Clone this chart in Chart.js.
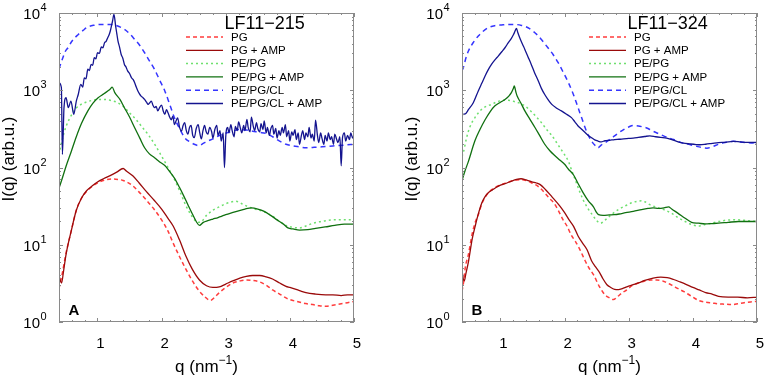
<!DOCTYPE html>
<html>
<head>
<meta charset="utf-8">
<script src="https://cdn.jsdelivr.net/npm/chart.js@4.4.1/dist/chart.umd.min.js"></script>
<style>
  body { margin: 0; background: #fff; }
  #wrap { position: relative; width: 765px; height: 380px; }
  canvas { position: absolute; left: 0; top: 0; }
</style>
</head>
<body>
<div id="wrap">
  <canvas id="chartA" width="765" height="380"></canvas>
  <canvas id="chartB" width="765" height="380"></canvas>
</div>
<script>
// series names, tick labels
const seriesNames = ["PG", "PG + AMP", "PE/PG", "PE/PG + AMP", "PE/PG/CL", "PE/PG/CL + AMP"];
const xTicks = [1, 2, 3, 4, 5];
const yTicks = [1, 10, 100, 1000, 10000];
const yExponents = ["0", "1", "2", "3", "4"];

// ---- panel A : LF11-215, pairs of [q, I(q)] ----
const pgA = [[0.4,2.7],[0.45,4.2],[0.51,7.8],[0.59,15],[0.67,28],[0.75,40],[0.83,49],[0.92,57],[1.0,63],[1.12,69],[1.24,71],[1.32,70],[1.4,68],[1.55,58],[1.65,48],[1.76,38],[1.88,29],[2.0,21],[2.1,15],[2.18,10.5],[2.28,7],[2.38,4.8],[2.48,3.4],[2.59,2.5],[2.68,2.1],[2.76,1.9],[2.83,2.1],[2.9,2.4],[3.0,2.8],[3.11,3.2],[3.22,3.4],[3.32,3.5],[3.42,3.45],[3.53,3.3],[3.63,3.0],[3.73,2.6],[3.84,2.3],[3.94,2.05],[4.0,1.95],[4.1,1.85],[4.25,1.73],[4.36,1.68],[4.46,1.62],[4.56,1.6],[4.67,1.65],[4.8,1.72],[4.9,1.78],[5.0,1.85]];
const pgAmpA = [[0.4,4.0],[0.44,3.2],[0.47,4.5],[0.51,7.5],[0.59,15],[0.67,28],[0.75,40],[0.83,50],[0.92,58],[1.0,65],[1.1,72],[1.19,78],[1.3,87],[1.4,97],[1.45,90],[1.55,78],[1.65,63],[1.76,49],[1.88,38],[2.0,29],[2.1,22],[2.18,17.5],[2.28,11.5],[2.38,7.1],[2.48,4.8],[2.59,3.5],[2.7,2.95],[2.8,2.8],[2.9,2.85],[3.0,3.1],[3.11,3.4],[3.22,3.7],[3.32,3.9],[3.42,4.0],[3.53,4.0],[3.63,3.85],[3.73,3.6],[3.84,3.2],[3.94,2.9],[4.0,2.8],[4.15,2.55],[4.25,2.4],[4.4,2.3],[4.56,2.25],[4.67,2.25],[4.8,2.2],[4.9,2.25],[5.0,2.25]];
const peA = [[0.4,147],[0.45,230],[0.51,340],[0.59,470],[0.67,590],[0.75,660],[0.83,705],[0.92,740],[1.0,760],[1.1,760],[1.2,740],[1.3,700],[1.4,620],[1.5,510],[1.6,420],[1.7,330],[1.8,260],[1.9,195],[2.0,140],[2.1,100],[2.2,70],[2.28,50],[2.38,32],[2.45,25],[2.54,20],[2.6,19.5],[2.7,24],[2.8,28],[2.9,31],[3.0,34],[3.1,36],[3.16,36.5],[3.25,34],[3.35,31],[3.45,29],[3.53,28],[3.63,26],[3.73,23.5],[3.84,20],[3.94,17.8],[4.05,16.8],[4.15,16.5],[4.25,17.5],[4.36,19],[4.46,19.8],[4.56,20.5],[4.7,21],[4.85,21],[5.0,21]];
const peAmpA = [[0.4,54],[0.45,72],[0.51,104],[0.59,160],[0.67,250],[0.75,370],[0.85,540],[0.93,680],[1.01,800],[1.1,900],[1.16,980],[1.2,1040],[1.23,1100],[1.27,930],[1.35,760],[1.42,594],[1.5,450],[1.58,327],[1.66,240],[1.735,180],[1.81,150],[1.89,134],[1.97,118],[2.05,106],[2.12,90],[2.2,73],[2.28,55],[2.35,42],[2.41,33],[2.48,25],[2.54,20],[2.59,17.8],[2.65,19.5],[2.72,20.5],[2.8,21.5],[2.88,22.5],[2.93,23.3],[3.0,24.5],[3.1,26],[3.2,27.5],[3.3,29],[3.4,30],[3.5,29],[3.6,27],[3.7,24],[3.8,21],[3.9,18.5],[3.97,16.5],[4.05,16],[4.15,15.5],[4.28,15.7],[4.4,16.3],[4.55,17],[4.7,17.8],[4.85,18.5],[5.0,18.5]];
const clA = [[0.4,1900],[0.45,2500],[0.5,3200],[0.54,3550],[0.6,4300],[0.7,5270],[0.78,6000],[0.85,6600],[0.95,6950],[1.06,7100],[1.17,7100],[1.27,7000],[1.35,6600],[1.42,6150],[1.5,5400],[1.58,4550],[1.66,3800],[1.735,3060],[1.81,2400],[1.89,1860],[1.97,1350],[2.05,980],[2.12,680],[2.2,440],[2.28,320],[2.36,243],[2.44,215],[2.51,200],[2.58,192],[2.65,205],[2.72,220],[2.8,235],[2.9,260],[3.01,280],[3.1,295],[3.21,310],[3.32,305],[3.42,295],[3.53,285],[3.63,275],[3.73,250],[3.84,220],[3.94,200],[4.05,190],[4.15,185],[4.25,180],[4.36,182],[4.5,185],[4.67,190],[4.85,195],[5.0,200]];
const clAmpA = [[0.4,1250],[0.437,1080],[0.453,148],[0.478,595],[0.51,800],[0.545,595],[0.586,725],[0.63,487],[0.67,725],[0.7,880],[0.74,1190],[0.77,1100],[0.795,1450],[0.82,1400],[0.85,1870],[0.875,1800],[0.9,2160],[0.925,2100],[0.95,2640],[0.975,2550],[1.0,3060],[1.03,3000],[1.06,3630],[1.085,3550],[1.11,4120],[1.135,4300],[1.16,4790],[1.18,5200],[1.2,5850],[1.235,7880],[1.257,9600],[1.283,6780],[1.3,5500],[1.32,4340],[1.345,3600],[1.37,2900],[1.395,2600],[1.42,2160],[1.445,2000],[1.47,1780],[1.5,1650],[1.53,1450],[1.555,1380],[1.58,1250],[1.605,1100],[1.63,980],[1.655,900],[1.68,840],[1.71,800],[1.735,760],[1.765,700],[1.79,656],[1.815,690],[1.84,725],[1.865,640],[1.89,595],[1.915,620],[1.94,540],[1.97,600],[2.0,640],[2.025,540],[2.05,487],[2.075,560],[2.1,510],[2.125,450],[2.15,415],[2.175,460],[2.2,360],[2.225,400],[2.25,440],[2.28,330],[2.31,295],[2.335,350],[2.36,380],[2.385,300],[2.41,270],[2.435,330],[2.46,350],[2.485,260],[2.51,243],[2.54,320],[2.57,360],[2.595,280],[2.62,235],[2.645,300],[2.67,350],[2.695,290],[2.72,270],[2.75,330],[2.78,290],[2.8,240],[2.83,310],[2.86,350],[2.88,260],[2.91,300],[2.93,220],[2.96,280],[2.98,100],[3.0,250],[3.03,330],[3.05,280],[3.08,360],[3.1,300],[3.13,250],[3.15,340],[3.18,300],[3.2,390],[3.23,320],[3.25,280],[3.28,350],[3.3,300],[3.33,420],[3.35,330],[3.38,290],[3.4,450],[3.43,340],[3.45,300],[3.48,380],[3.5,320],[3.53,290],[3.55,370],[3.58,310],[3.6,400],[3.63,280],[3.65,330],[3.68,260],[3.7,310],[3.73,350],[3.75,270],[3.78,320],[3.8,240],[3.83,300],[3.85,260],[3.88,330],[3.9,280],[3.93,360],[3.95,250],[3.98,300],[4.0,220],[4.03,290],[4.05,260],[4.08,310],[4.1,230],[4.13,280],[4.15,200],[4.18,260],[4.2,300],[4.23,230],[4.25,280],[4.28,250],[4.3,330],[4.33,240],[4.35,270],[4.38,220],[4.4,410],[4.43,260],[4.45,210],[4.48,280],[4.5,240],[4.53,200],[4.55,260],[4.58,220],[4.6,280],[4.63,230],[4.65,250],[4.68,200],[4.7,270],[4.73,230],[4.75,210],[4.78,250],[4.8,105],[4.82,240],[4.85,280],[4.87,220],[4.9,260],[4.93,230],[4.95,280],[4.98,240],[5.0,260]];

// ---- panel B : LF11-324 ----
const pgB = [[0.4,2.5],[0.43,3.5],[0.45,5],[0.5,7.5],[0.56,14],[0.61,20],[0.654,24.5],[0.71,34],[0.76,41],[0.81,47],[0.87,52],[0.93,56],[1.017,60],[1.1,64],[1.18,67],[1.25,69],[1.33,69.5],[1.42,67],[1.49,63],[1.56,59],[1.62,54],[1.7,46],[1.76,40],[1.83,35],[1.9,28],[1.97,21.5],[2.04,17.3],[2.1,13.5],[2.17,11],[2.24,8.6],[2.32,6.2],[2.38,5],[2.45,4.1],[2.54,2.9],[2.63,2.24],[2.7,2.05],[2.76,1.95],[2.83,2.15],[2.9,2.4],[2.97,2.6],[3.05,2.95],[3.15,3.2],[3.25,3.4],[3.35,3.5],[3.44,3.5],[3.55,3.35],[3.67,3.0],[3.77,2.7],[3.87,2.45],[3.98,2.15],[4.09,1.9],[4.2,1.8],[4.3,1.76],[4.4,1.72],[4.5,1.7],[4.6,1.68],[4.7,1.72],[4.8,1.78],[4.9,1.82],[5.0,1.85]];
const pgAmpB = [[0.4,4.6],[0.42,3.6],[0.436,3.4],[0.46,4.2],[0.5,6],[0.56,12],[0.61,18],[0.66,26],[0.71,35],[0.76,42],[0.81,47],[0.87,51],[0.93,55],[1.0,59],[1.1,63],[1.18,67],[1.25,70],[1.32,71.5],[1.4,69],[1.49,65],[1.56,63],[1.62,60],[1.7,52],[1.8,42],[1.93,31.4],[2.0,26],[2.07,21],[2.14,17.3],[2.21,13],[2.28,10.5],[2.35,8.6],[2.42,6.2],[2.48,5.2],[2.55,4.3],[2.6,3.6],[2.66,3.04],[2.72,2.8],[2.78,2.65],[2.84,2.62],[2.9,2.7],[2.97,2.85],[3.07,3.04],[3.15,3.2],[3.25,3.45],[3.38,3.7],[3.5,3.8],[3.6,3.75],[3.7,3.55],[3.8,3.3],[3.9,3.05],[4.0,2.8],[4.1,2.6],[4.2,2.4],[4.3,2.3],[4.4,2.15],[4.55,2.1],[4.7,2.1],[4.85,2.05],[5.0,2.1]];
const peB = [[0.4,140],[0.42,155],[0.47,240],[0.52,330],[0.6,440],[0.7,560],[0.78,620],[0.86,656],[0.95,710],[1.05,740],[1.12,740],[1.2,720],[1.3,680],[1.38,625],[1.46,550],[1.55,460],[1.64,380],[1.72,310],[1.8,260],[1.9,195],[1.98,155],[2.06,120],[2.11,92],[2.17,68],[2.23,50],[2.29,38],[2.37,29],[2.45,23.3],[2.5,20.5],[2.56,19],[2.62,20.5],[2.69,23],[2.76,25.7],[2.85,29],[2.95,32],[3.05,35],[3.13,36.5],[3.2,37],[3.25,36],[3.33,33],[3.46,30],[3.57,28],[3.67,25.5],[3.77,22.4],[3.88,20],[3.98,18.3],[4.09,17.5],[4.19,18.3],[4.29,19],[4.4,20],[4.6,21],[4.71,21],[4.85,20.5],[5.0,20]];
const peAmpB = [[0.4,68],[0.45,92],[0.5,120],[0.6,220],[0.68,310],[0.76,415],[0.84,530],[0.91,625],[1.0,700],[1.07,760],[1.13,840],[1.17,930],[1.2,1050],[1.215,1135],[1.24,950],[1.26,840],[1.32,680],[1.38,540],[1.46,420],[1.54,327],[1.61,260],[1.69,200],[1.77,165],[1.85,142],[1.93,124],[2.0,110],[2.06,95],[2.14,80],[2.21,62],[2.29,47],[2.37,37],[2.45,31],[2.5,26],[2.53,24.5],[2.6,24],[2.7,24.3],[2.77,24.5],[2.85,25],[2.95,26],[3.07,27],[3.2,28.5],[3.3,29.5],[3.38,30],[3.46,29.5],[3.55,30],[3.62,31],[3.67,29],[3.77,25.5],[3.88,22],[3.98,19.5],[4.09,19],[4.19,18.6],[4.3,18.8],[4.4,19],[4.55,19.5],[4.71,20],[4.85,20],[5.0,20]];
const clB = [[0.4,1800],[0.42,1950],[0.46,2600],[0.5,3220],[0.58,4200],[0.654,5040],[0.73,5800],[0.81,6450],[0.91,6850],[1.017,7000],[1.12,7100],[1.225,7100],[1.33,6900],[1.43,6450],[1.51,5800],[1.59,5040],[1.66,4300],[1.74,3550],[1.82,2900],[1.9,2270],[1.98,1700],[2.06,1250],[2.14,870],[2.21,594],[2.27,430],[2.32,327],[2.37,260],[2.42,220],[2.47,195],[2.52,180],[2.57,195],[2.63,209],[2.7,230],[2.76,250],[2.84,280],[2.92,310],[3.0,335],[3.07,350],[3.15,345],[3.22,335],[3.28,325],[3.36,300],[3.44,280],[3.55,255],[3.7,230],[3.82,210],[3.96,197],[4.1,185],[4.22,178],[4.3,185],[4.4,200],[4.5,210],[4.63,218],[4.78,212],[4.94,207],[5.0,210]];
const clAmpB = [[0.4,480],[0.42,487],[0.46,500],[0.5,560],[0.576,690],[0.654,980],[0.71,1240],[0.76,1530],[0.81,1850],[0.86,2160],[0.91,2450],[0.965,2770],[1.02,3150],[1.07,3550],[1.12,4100],[1.17,4690],[1.21,5400],[1.25,6300],[1.27,5600],[1.3,4790],[1.34,4000],[1.38,3380],[1.43,2700],[1.48,2160],[1.53,1700],[1.59,1320],[1.64,1050],[1.69,880],[1.75,740],[1.8,656],[1.87,590],[1.95,540],[2.03,490],[2.107,442],[2.16,390],[2.21,345],[2.27,310],[2.32,283],[2.37,260],[2.42,243],[2.47,228],[2.52,220],[2.57,215],[2.63,222],[2.7,225],[2.78,230],[2.85,232],[2.92,235],[3.0,238],[3.07,240],[3.15,245],[3.25,252],[3.33,257],[3.42,250],[3.5,245],[3.59,240],[3.68,228],[3.77,215],[3.85,207],[3.95,202],[4.05,198],[4.11,197],[4.2,200],[4.3,205],[4.4,210],[4.5,212],[4.63,218],[4.75,214],[4.85,212],[4.94,212],[5.0,210]];

const lineColors = ["#ff3c3c", "#9a0a0a", "#6ee06e", "#107010", "#3535ff", "#14148f"];
const lineDashes = [[4, 3], [], [2, 3], [], [5, 4], []];
const FONT = "'Liberation Sans', Arial, Helvetica, sans-serif";

// draws the box, inward ticks, tick labels, titles and legend
const framePlugin = {
  id: "frame",
  afterDatasetsDraw(chart, args, opts) {
    const ctx = chart.ctx;
    const a = chart.chartArea;
    const xs = chart.scales.x;
    const ys = chart.scales.y;
    ctx.save();

    // box
    ctx.strokeStyle = "#8a8a8a";
    ctx.lineWidth = 1;
    ctx.setLineDash([]);
    ctx.strokeRect(a.left + 0.5, a.top + 0.5, a.right - a.left - 1, a.bottom - a.top - 1);

    // x ticks (major at integers, minor every 0.2)
    ctx.beginPath();
    for (let k = 2; k <= 25; k++) {
      const v = k / 5;
      const px = Math.round(xs.getPixelForValue(v)) + 0.5;
      const len = k % 5 === 0 ? 4 : 2;
      ctx.moveTo(px, a.bottom); ctx.lineTo(px, a.bottom - len);
      ctx.moveTo(px, a.top); ctx.lineTo(px, a.top + len);
    }
    // y ticks (log minor)
    for (let e = 0; e < 4; e++) {
      for (let m = 1; m <= 9; m++) {
        const v = m * Math.pow(10, e);
        const py = Math.round(ys.getPixelForValue(v)) + 0.5;
        const len = m === 1 ? 4 : 2;
        ctx.moveTo(a.left, py); ctx.lineTo(a.left + len, py);
        ctx.moveTo(a.right, py); ctx.lineTo(a.right - len, py);
      }
    }
    ctx.stroke();

    ctx.fillStyle = "#000";
    // y tick labels 10^n
    yTicks.forEach((v, i) => {
      const py = ys.getPixelForValue(v);
      ctx.font = "15px " + FONT;
      ctx.textAlign = "right";
      ctx.textBaseline = "middle";
      ctx.fillText("10", a.left - 19, py + 2);
      ctx.font = "11px " + FONT;
      ctx.textAlign = "left";
      ctx.textBaseline = "alphabetic";
      ctx.fillText(yExponents[i], a.left - 18.5, py - 2);
    });

    // x tick labels
    ctx.font = "15px " + FONT;
    ctx.textAlign = "center";
    ctx.textBaseline = "alphabetic";
    xTicks.forEach((v) => {
      ctx.fillText(String(v), xs.getPixelForValue(v) + 3, a.bottom + 25.5);
    });

    // x title: q (nm^-1)
    const cx = (a.left + a.right) / 2;
    ctx.font = "17px " + FONT;
    const p1 = "q (nm", p3 = ")";
    const w1 = ctx.measureText(p1).width;
    const w3 = ctx.measureText(p3).width;
    ctx.font = "12px " + FONT;
    const w2 = ctx.measureText("\u22121").width;
    let x0 = cx - (w1 + w2 + w3) / 2;
    ctx.textAlign = "left";
    ctx.font = "17px " + FONT;
    ctx.fillText(p1, x0, 372);
    ctx.font = "12px " + FONT;
    ctx.fillText("\u22121", x0 + w1, 364);
    ctx.font = "17px " + FONT;
    ctx.fillText(p3, x0 + w1 + w2, 372);

    // y title
    ctx.save();
    ctx.translate(a.left - 49.5, 159);
    ctx.rotate(-Math.PI / 2);
    ctx.textAlign = "center";
    ctx.textBaseline = "middle";
    ctx.fillText("I(q) (arb.u.)", 0, 0);
    ctx.restore();

    // panel letter
    ctx.font = "bold 15px " + FONT;
    ctx.textAlign = "left";
    ctx.fillText(opts.letter, a.left + 9.5, a.bottom - 7.5);

    // title
    ctx.font = "18px " + FONT;
    ctx.fillText(opts.title, a.right - 129.5, a.top + 16);

    // legend
    ctx.font = "11.5px " + FONT;
    ctx.textBaseline = "middle";
    chart.data.datasets.forEach((ds, i) => {
      const y = a.top + 24 + i * 13.3;
      ctx.beginPath();
      ctx.strokeStyle = ds.borderColor;
      ctx.lineWidth = ds.borderWidth;
      ctx.setLineDash(ds.borderDash);
      ctx.moveTo(a.right - 168, y);
      ctx.lineTo(a.right - 131, y);
      ctx.stroke();
      ctx.fillText(ds.label, a.right - 123, y + 0.5);
    });
    ctx.restore();
  },
};

function makePanel(canvasId, series, plotLeft, plotRight, title, letter) {
  const datasets = series.map((pts, i) => ({
    label: seriesNames[i],
    data: pts.map((p) => ({ x: p[0], y: p[1] })),
    borderColor: lineColors[i],
    borderWidth: i % 2 === 0 ? 1.5 : 1.3,
    borderDash: lineDashes[i],
    pointRadius: 0,
    cubicInterpolationMode: "monotone",
    fill: false,
    order: 10 - i,
  }));

  return new Chart(document.getElementById(canvasId), {
    type: "line",
    data: { datasets: datasets },
    options: {
      responsive: false,
      animation: false,
      events: [],
      devicePixelRatio: 1,
      layout: { padding: { left: 0, right: 765 - plotRight, top: 13, bottom: 0 } },
      scales: {
        x: {
          type: "linear",
          min: 0.4,
          max: 5,
          grid: { display: false },
          border: { display: false },
          ticks: { display: false },
          afterFit: (scale) => { scale.height = 58; },
        },
        y: {
          type: "logarithmic",
          min: 1,
          max: 10000,
          grid: { display: false },
          border: { display: false },
          ticks: { display: false },
          afterFit: (scale) => { scale.width = plotLeft; },
        },
      },
      plugins: {
        legend: { display: false },
        tooltip: { enabled: false },
        frame: { title: title, letter: letter },
      },
    },
    plugins: [framePlugin],
  });
}

makePanel("chartA", [pgA, pgAmpA, peA, peAmpA, clA, clAmpA], 59, 354, "LF11\u2212215", "A");
makePanel("chartB", [pgB, pgAmpB, peB, peAmpB, clB, clAmpB], 462, 757, "LF11\u2212324", "B");
</script>
</body>
</html>
